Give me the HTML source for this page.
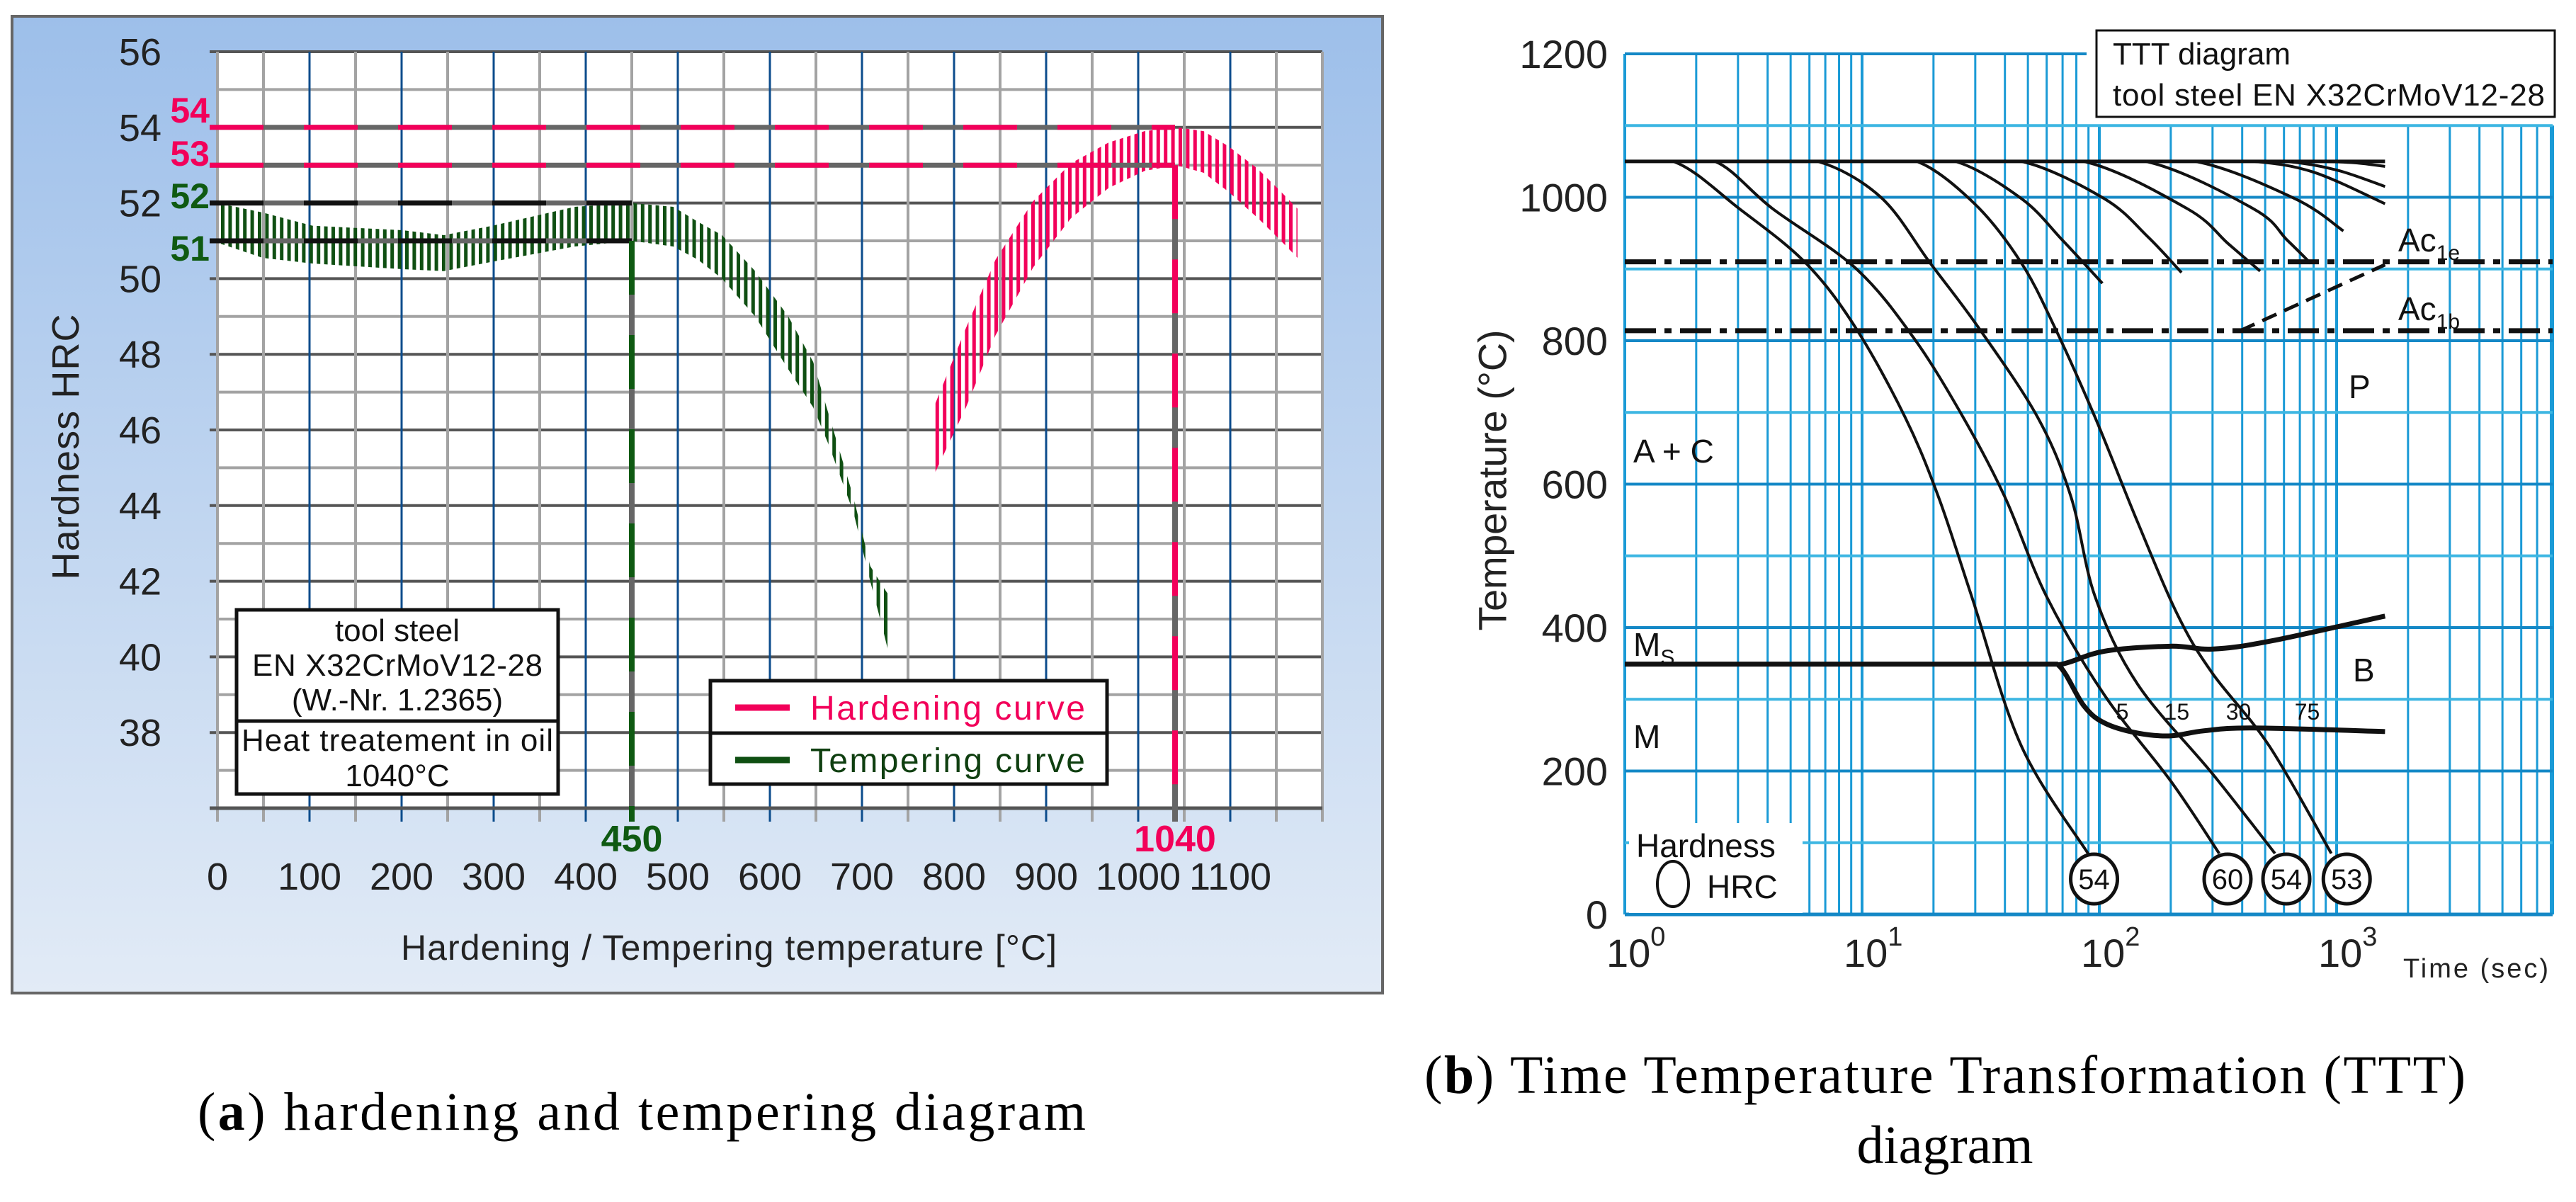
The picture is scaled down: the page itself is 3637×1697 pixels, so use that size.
<!DOCTYPE html>
<html><head><meta charset="utf-8"><style>
html,body{margin:0;padding:0;background:#fff;}
svg{display:block;}
text{font-family:"Liberation Sans",Arial,sans-serif;}
.serif{font-family:"Liberation Serif","Times New Roman",serif;}
</style></head><body>
<svg id="fig" width="3637" height="1697" viewBox="0 0 3637 1697" xmlns="http://www.w3.org/2000/svg">
<defs>
<linearGradient id="panelGrad" x1="0" y1="0" x2="0" y2="1">
<stop offset="0" stop-color="#9dbfea"/><stop offset="1" stop-color="#e2ebf6"/>
</linearGradient>
<pattern id="hatchRed" patternUnits="userSpaceOnUse" width="10.4" height="20"><rect x="0" y="0" width="5" height="20" fill="#f2005a"/></pattern>
<pattern id="hatchGreen" patternUnits="userSpaceOnUse" width="10.4" height="20"><rect x="0" y="0" width="5" height="20" fill="#0f4f12"/></pattern>
</defs>
<g id="left">
<rect x="17" y="23" width="1935" height="1379" fill="url(#panelGrad)" stroke="#666" stroke-width="4"/>
<rect x="307" y="73" width="1560" height="1068" fill="#fff"/>
<g id="lgrid"></g>
<g id="lseries"></g>
<g id="lref"></g>
<g id="laxis"></g>
<text x="93" y="631" font-size="54" fill="#222" text-anchor="middle" transform="rotate(-90 93 631)" dominant-baseline="central" textLength="375">Hardness HRC</text>
<text x="1029" y="1355" font-size="50" fill="#222" text-anchor="middle" textLength="926">Hardening / Tempering temperature [°C]</text>
<g>
<rect x="334" y="861" width="454" height="260" fill="#fff" stroke="#111" stroke-width="5"/>
<line x1="334" y1="1018" x2="788" y2="1018" stroke="#111" stroke-width="5"/>
<text x="561" y="905" font-size="44" text-anchor="middle" fill="#111">tool steel</text>
<text x="561" y="954" font-size="44" text-anchor="middle" fill="#111" textLength="410">EN X32CrMoV12-28</text>
<text x="561" y="1003" font-size="44" text-anchor="middle" fill="#111">(W.-Nr. 1.2365)</text>
<text x="561" y="1060" font-size="44" text-anchor="middle" fill="#111" textLength="440">Heat treatement in oil</text>
<text x="561" y="1110" font-size="44" text-anchor="middle" fill="#111">1040°C</text>
</g>
<g>
<rect x="1003" y="961" width="560" height="146" fill="#fff" stroke="#111" stroke-width="5"/>
<line x1="1003" y1="1035" x2="1563" y2="1035" stroke="#111" stroke-width="5"/>
<line x1="1038" y1="999" x2="1115" y2="999" stroke="#f2005a" stroke-width="9"/>
<text x="1144" y="1016" font-size="48" fill="#f2005a" textLength="388">Hardening curve</text>
<line x1="1038" y1="1073" x2="1115" y2="1073" stroke="#0f4f12" stroke-width="9"/>
<text x="1144" y="1090" font-size="48" fill="#0f3f10" textLength="388">Tempering curve</text>
</g>
</g>

<g id="right">
<g id="rgrid"></g>
<g id="rcurves"></g>
<g id="raxis"></g>
<rect x="2960" y="43" width="647" height="122" fill="#fff" stroke="#111" stroke-width="3"/>
<text x="2983" y="91" font-size="44" fill="#111">TTT diagram</text>
<text x="2983" y="149" font-size="44" fill="#111" textLength="610">tool steel EN X32CrMoV12-28</text>
<text x="2107" y="678" font-size="56" fill="#222" text-anchor="middle" dominant-baseline="central" transform="rotate(-90 2107 678)" textLength="425">Temperature (°C)</text>
<text x="3393" y="1380" font-size="38" fill="#222" textLength="205">Time (sec)</text>
</g>

<text class="serif" x="906" y="1595" font-size="76" fill="#000" text-anchor="middle" textLength="1254">(<tspan font-weight="bold">a</tspan>) hardening and tempering diagram</text>
<text class="serif" x="2746" y="1543" font-size="76" fill="#000" text-anchor="middle" textLength="1470">(<tspan font-weight="bold">b</tspan>) Time Temperature Transformation (TTT)</text>
<text class="serif" x="2746" y="1642" font-size="76" fill="#000" text-anchor="middle">diagram</text>
</svg>
<script>
// ---------- Left chart data ----------
const hardTicks = [56,54,52,50,48,46,44,42,40,38];
const tempTicks = [0,100,200,300,400,500,600,700,800,900,1000,1100];
const temperT = [0,49,103,201,246,299,388,450,495,522,548,584,620,647,664,691,709,723,730];
const temperUpper = [52.0,51.75,51.4,51.28,51.15,51.4,51.9,52.0,51.9,51.5,51.15,50.2,49.0,47.8,46.4,44.2,42.4,41.85,41.6];
const temperLower = [50.95,50.55,50.4,50.25,50.2,50.45,50.85,51.0,50.85,50.5,50.0,49.0,47.6,46.6,45.6,43.8,42.0,40.7,40.0];
const hardenT = [778,813,845,886,927,968,1007,1042,1071,1098,1130,1153,1173];
const hardenUpper = [46.6,48.7,50.5,52.05,53.05,53.6,53.9,54.0,53.9,53.5,52.9,52.35,51.85];
const hardenLower = [44.8,46.6,48.5,50.3,51.6,52.4,52.85,53.0,52.8,52.3,51.6,51.05,50.55];
const refHard = [54,53,52,51];
const refTemp = [450,1040];

// ---------- Right chart data ----------
const tempAxisTicks = [0,200,400,600,800,1000,1200];
const decades = [0,1,2,3];
const plateauTemp = 1050;
const ac1e = 910, ac1b = 814;
const curveTimes = [
 [1.6,3.04,5.8,9.4,15.2,21,29,46.9,90],
 [2.4,4.2,9.4,16.5,26.7,40,60,105,200,320],
 [6.5,12,19.4,31,55,76,96,145,300,550],
 [17,30,47,65,96,145,215,300,520,950],
 [24.7,47,70,103],
 [47,105,160,222],
 [86,235,350,476],
 [157,446,620,777],
 [254,668,1068],
 [448,800,1600],
 [614,1000,1600],
 [850,1200,1600]
];
const curveTemps = [
 [1050,984,908,818,693,582,443,235,84],
 [1050,984,901,804,693,582,443,306,186,85],
 [1050,1000,908,818,693,582,443,321,196,85],
 [1050,990,908,818,693,547,416,336,235,85],
 [1050,998,940,880],
 [1050,998,945,895],
 [1050,984,935,897],
 [1050,984,940,908],
 [1050,998,953],
 [1050,1035,991],
 [1050,1038,1015],
 [1050,1048,1043]
];
const msTimes = [1,67];
const msTemps = [349,349];
const upperBranchTimes = [67,105,200,300,524,1600];
const upperBranchTemps = [348,367,374,370,381,416];
const lowerBranchTimes = [67,86,105,144,200,275,447,1600];
const lowerBranchTemps = [348,291,267,253,249,256,260,255];
const hrcValues = ["54","60","54","53"];
const hrcTimes = [95,347,614,1103];
const coolingLabels = ["5","15","30","75"];
const coolingLabelTimes = [125,212,386,752];
const ac1bDashTimes = [393,1600];
const ac1bDashTemps = [814,906];

const NS = "http://www.w3.org/2000/svg";
function mk(tag, attrs, parent){const e=document.createElementNS(NS,tag);for(const k in attrs)e.setAttribute(k,attrs[k]);parent.appendChild(e);return e;}
const xL = T => 307 + T*1.3;
const yL = h => 73 + (56-h)*53.4;
const xR = t => 2294 + 335*Math.log10(t);
const yR = T => 1291 - T*1.0125;

// left grid
const lg = document.getElementById('lgrid');
for(let h=36; h<=56; h++){
  const even = h%2===0;
  const ln = mk('line',{x1: even?296:307, x2:1867, y1:yL(h), y2:yL(h), stroke: even?'#555':'#a3a3a3', 'stroke-width':4}, lg);
  
  
}
for(let T=0; T<=1200; T+=50){
  const major = T%100===0 && T>0 && T<1200;
  const col = major ? '#0c4c8c' : '#a3a3a3';
  const ln = mk('line',{x1:xL(T), x2:xL(T), y1:73, y2:1160, stroke: col, 'stroke-width': major?3:4}, lg);
  
  
}
mk('line',{x1:296,x2:1867,y1:yL(36),y2:yL(36),stroke:'#555','stroke-width':5},lg);

function bandPath(xs, up, lo){
  let d='M'+xL(xs[0])+','+yL(up[0]);
  for(let i=1;i<xs.length;i++) d+=' L'+xL(xs[i])+','+yL(up[i]);
  for(let i=xs.length-1;i>=0;i--) d+=' L'+xL(xs[i])+','+yL(lo[i]);
  return d+' Z';
}
const ls = document.getElementById('lseries');
const tb = mk('path',{d:bandPath(temperT,temperUpper,temperLower), fill:'url(#hatchGreen)'}, ls);


const hb = mk('path',{d:bandPath(hardenT,hardenUpper,hardenLower), fill:'url(#hatchRed)'}, ls);



const lr = document.getElementById('lref');
refHard.forEach(h=>{
  const pink = h>=53;
  const xEnd = pink ? xL(refTemp[1]) : xL(refTemp[0]);
  const base = mk('line',{x1:296,x2:xEnd,y1:yL(h),y2:yL(h),stroke:'#666','stroke-width':7}, lr);
  
  
  const dash = mk('line',{x1:296,x2:xEnd,y1:yL(h),y2:yL(h),stroke: pink?'#f2005a':'#111','stroke-width':7,'stroke-dasharray':'76 57'}, lr);
  
  
});
refTemp.forEach((T,i)=>{
  const y0 = i===0 ? yL(51) : yL(53);
  const col = i===0 ? '#0f5a12' : '#f2005a';
  const base = mk('line',{x1:xL(T),x2:xL(T),y1:y0,y2:1160,stroke:'#666','stroke-width':8}, lr);
  
  
  const dash = mk('line',{x1:xL(T),x2:xL(T),y1:y0,y2:1160,stroke:col,'stroke-width':8,'stroke-dasharray':'76 57'}, lr);
  
  
  const lab = mk('text',{x:xL(T), y:1202, 'font-size':52,'font-weight':'bold','text-anchor':'middle',fill:col}, lr);
  lab.textContent = String(T);
  
  
});
refHard.forEach(h=>{
  const pink = h>=53;
  const yy = {54:173,53:234,52:294,51:368}[h];
  const lab = mk('text',{x:296, y:yy, 'font-size':50,'font-weight':'bold','text-anchor':'end',fill: pink?'#f2005a':'#0f5a12'}, lr);
  lab.textContent = String(h);
  
  
});

const la = document.getElementById('laxis');
hardTicks.forEach(h=>{
  const t = mk('text',{x:228, y:yL(h)+19, 'font-size':54,'text-anchor':'end',fill:'#222'}, la);
  t.textContent = String(h);
  
  
});
tempTicks.forEach(T=>{
  const t = mk('text',{x:xL(T), y:1256, 'font-size':54,'text-anchor':'middle',fill:'#222'}, la);
  t.textContent = String(T);
  
  
});

// ---------- Right chart ----------
const rg = document.getElementById('rgrid');
const rX0 = 2294, rX1 = 3604;
mk('rect',{x:rX0,y:yR(1200),width:rX1-rX0,height:yR(0)-yR(1200),fill:'#fff'},rg);
decades.forEach(d=>{
  for(let k=1;k<=9;k++){
    const t = k*Math.pow(10,d);
    const x = xR(t);
    if(x>rX1+1) continue;
    const top = x>2946 ? yR(1100) : yR(1200);
    const ln = mk('line',{x1:x,x2:x,y1:top,y2:yR(0),stroke:'#1a9ad6','stroke-width': k===1?4:3}, rg);
    
    
  }
});
mk('line',{x1:rX1,x2:rX1,y1:yR(1100),y2:yR(0),stroke:'#1a9ad6','stroke-width':4},rg);
for(let T=0; T<=1200; T+=100){
  const xEnd = T===1200 ? 2946 : rX1;
  const ln = mk('line',{x1:rX0,x2:xEnd,y1:yR(T),y2:yR(T),stroke: T%200===0?'#1488c6':'#3cb6e2','stroke-width': T===0?5:4}, rg);
  
  
}
mk('rect',{x:2300,y:1162,width:245,height:127,fill:'#fff'},rg);

const rc = document.getElementById('rcurves');
function smoothPath(pts){
  let d='M'+pts[0][0]+','+pts[0][1];
  for(let i=0;i<pts.length-1;i++){
    const p0=pts[i-1]||[pts[i][0]-(pts[i+1][0]-pts[i][0]),pts[i][1]], p1=pts[i], p2=pts[i+1], p3=pts[i+2]||p2;
    const c1=[p1[0]+(p2[0]-p0[0])/6, p1[1]+(p2[1]-p0[1])/6];
    const c2=[p2[0]-(p3[0]-p1[0])/6, p2[1]-(p3[1]-p1[1])/6];
    d+=' C'+c1[0]+','+c1[1]+' '+c2[0]+','+c2[1]+' '+p2[0]+','+p2[1];
  }
  return d;
}
function pts(ts,Ts){return ts.map((t,i)=>[xR(t),yR(Ts[i])]);}
const acE = mk('line',{x1:rX0,x2:rX1,y1:yR(ac1e),y2:yR(ac1e),stroke:'#111','stroke-width':7,'stroke-dasharray':'44 12 10 12'}, rc);


const acB = mk('line',{x1:rX0,x2:rX1,y1:yR(ac1b),y2:yR(ac1b),stroke:'#111','stroke-width':7,'stroke-dasharray':'44 12 10 12'}, rc);


const acD = mk('line',{x1:xR(ac1bDashTimes[0]),x2:xR(ac1bDashTimes[1]),y1:yR(ac1bDashTemps[0]),y2:yR(ac1bDashTemps[1]),stroke:'#111','stroke-width':5,'stroke-dasharray':'22 12'}, rc);


const pl = mk('line',{x1:xR(1),x2:xR(1600),y1:yR(plateauTemp),y2:yR(plateauTemp),stroke:'#111','stroke-width':5}, rc);


curveTimes.forEach((ts,i)=>{
  const p = mk('path',{d:smoothPath(pts(ts,curveTemps[i])),fill:'none',stroke:'#111','stroke-width':4}, rc);
  
  
});
const ms = mk('path',{d:smoothPath(pts(msTimes,msTemps)),fill:'none',stroke:'#111','stroke-width':7}, rc);


const ub = mk('path',{d:smoothPath(pts(upperBranchTimes,upperBranchTemps)),fill:'none',stroke:'#111','stroke-width':7}, rc);


const lb = mk('path',{d:smoothPath(pts(lowerBranchTimes,lowerBranchTemps)),fill:'none',stroke:'#111','stroke-width':7}, rc);


hrcValues.forEach((v,i)=>{
  const cx = xR(hrcTimes[i]), cy = 1241;
  const e = mk('ellipse',{cx:cx,cy:cy,rx:33,ry:35,fill:'#fff',stroke:'#111','stroke-width':5}, rc);
  
  
  const t = mk('text',{x:cx,y:cy+14,'font-size':40,'text-anchor':'middle',fill:'#111'}, rc);
  t.textContent = v;
  
  
});
coolingLabels.forEach((v,i)=>{
  const t = mk('text',{x:xR(coolingLabelTimes[i]),y:1016,'font-size':32,'text-anchor':'middle',fill:'#111'}, rc);
  t.textContent = v;
  
  
});
const regionLabels = [["A + C",2306,653,'region-a-c'],["P",3316,562,'region-p'],["B",3322,962,'region-b'],["M",2306,1056,'region-m'],["Hardness",2310,1210,'hardness-legend-label'],["HRC",2410,1268,'hrc-legend-label']];
regionLabels.forEach(r=>{
  const t = mk('text',{x:r[1],y:r[2],'font-size':46,fill:'#111'}, rc);
  t.textContent = r[0];
  
  
});
const hl = mk('ellipse',{cx:2362,cy:1248,rx:22,ry:32,fill:'none',stroke:'#111','stroke-width':4}, rc);


const subLabels = [["M","S",2306,926,'ms-label'],["Ac","1e",3386,355,'ac1e-label'],["Ac","1b",3386,452,'ac1b-label']];
subLabels.forEach(s=>{
  const t = mk('text',{x:s[2],y:s[3],'font-size':46,fill:'#111'}, rc);
  
  
  const a = document.createElementNS(NS,'tspan'); a.textContent=s[0]; t.appendChild(a);
  const b = document.createElementNS(NS,'tspan'); b.setAttribute('font-size','30'); b.setAttribute('dy','12'); b.textContent=s[1]; t.appendChild(b);
});
const ra = document.getElementById('raxis');
tempAxisTicks.forEach(T=>{
  const t = mk('text',{x:2270,y:yR(T)+20,'font-size':56,'text-anchor':'end',fill:'#222'}, ra);
  t.textContent = String(T);
  
  
});
decades.forEach(d=>{
  const x = xR(Math.pow(10,d)) - 26;
  const t = mk('text',{x:x,y:1365,'font-size':56,fill:'#222'}, ra);
  
  
  const a = document.createElementNS(NS,'tspan'); a.textContent='10'; t.appendChild(a);
  const b = document.createElementNS(NS,'tspan'); b.setAttribute('font-size','38'); b.setAttribute('dy','-30'); b.textContent=String(d); t.appendChild(b);
});
</script>
</body></html>
